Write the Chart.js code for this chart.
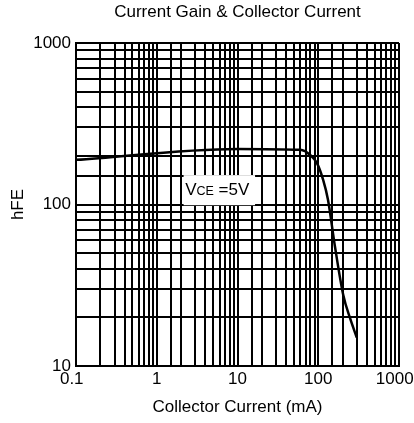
<!DOCTYPE html>
<html><head><meta charset="utf-8">
<script src="https://cdn.jsdelivr.net/npm/chart.js@4.4.1/dist/chart.umd.min.js"></script>
<style>html,body{margin:0;padding:0;background:#fff}#wrap{width:414px;height:423px;position:relative}</style>
</head><body><div id="wrap"><canvas id="c"></canvas></div>
<script>
// ---- data ----
const collectorCurrent = [0.1, 10, 60, 80, 96, 115, 132, 161, 204, 250, 300];   // mA
const hFE = [189, 221, 218, 202, 181, 142, 107, 55, 27.5, 19.5, 15];
const xTickLabels = ['0.1', '1', '10', '100', '1000'];
const yTickLabels = ['10', '100', '1000'];
const chartTitle = 'Current Gain & Collector Current';
const xTitle = 'Collector Current (mA)';
const yTitle = 'hFE';
const conditionMain = 'V', conditionSub = 'CE', conditionRest = ' =5V';

// annotation placement (data coordinates)
const labelBox = {x0: 2.15, x1: 16.5, yTop: 152, yBottom: 99};
const labelAnchor = {x: 2.25, y: 115};

const FONT = "'Liberation Sans', Arial, sans-serif";
Chart.defaults.font.family = FONT;
Chart.defaults.font.size = 17;
Chart.defaults.color = '#000';

function fmt(v){ return String(+Number(v).toPrecision(6)); }
// edge labels are drawn slightly left of their tick in the reference
function xLabel(v){
  const s = fmt(v);
  if (!xTickLabels.includes(s)) return '';
  return (s === xTickLabels[0] || s === xTickLabels[xTickLabels.length - 1]) ? s + '\u2002' : s;
}

const conditionLabel = {
  id: 'conditionLabel',
  beforeDatasetsDraw(chart){
    const {ctx, scales:{x, y}} = chart;
    const l = x.getPixelForValue(labelBox.x0), r = x.getPixelForValue(labelBox.x1);
    const t = y.getPixelForValue(labelBox.yTop), b = y.getPixelForValue(labelBox.yBottom);
    ctx.save();
    ctx.fillStyle = '#fff';
    ctx.fillRect(l, t, r - l, b - t);
    ctx.fillStyle = '#000';
    ctx.textBaseline = 'alphabetic';
    ctx.textAlign = 'left';
    let px = x.getPixelForValue(labelAnchor.x);
    const py = y.getPixelForValue(labelAnchor.y);
    ctx.font = '17px ' + FONT;
    ctx.fillText(conditionMain, px, py);
    px += ctx.measureText(conditionMain).width;
    ctx.font = '12.5px ' + FONT;
    ctx.fillText(conditionSub, px, py);
    px += ctx.measureText(conditionSub).width;
    ctx.font = '17px ' + FONT;
    ctx.fillText(conditionRest, px, py);
    ctx.restore();
  }
};

new Chart(document.getElementById('c'), {
  type: 'line',
  data: {
    datasets: [{
      data: collectorCurrent.map((c, i) => ({x: c, y: hFE[i]})),
      borderColor: '#000',
      borderWidth: 2.5,
      pointRadius: 0,
      cubicInterpolationMode: 'monotone',
      fill: false
    }]
  },
  options: {
    responsive: true,
    maintainAspectRatio: false,
    animation: false,
    devicePixelRatio: 1,
    layout: {padding: {left: 0, right: 15, top: 0, bottom: 0}},
    plugins: {legend: {display: false}, tooltip: {enabled: false}, title: {display: false}},
    scales: {
      x: {
        type: 'logarithmic', position: 'bottom', min: 0.1, max: 1000,
        grid: {color: '#000', lineWidth: 2, drawTicks: false},
        border: {color: '#000', width: 2},
        ticks: {padding: 3, autoSkip: false, maxRotation: 0, minRotation: 0, callback: xLabel},
        title: {display: true, text: xTitle, padding: {top: 0, bottom: 5}},
        afterFit: s => { s.height = 57; s.paddingLeft = 0; s.paddingRight = 0; }
      },
      y: {
        type: 'logarithmic', position: 'left', min: 10, max: 1000,
        grid: {color: '#000', lineWidth: 2, drawTicks: false},
        border: {color: '#000', width: 2},
        ticks: {padding: 5, autoSkip: false,
          callback: v => yTickLabels.includes(fmt(v)) ? fmt(v) : ''},
        title: {display: true, text: yTitle, padding: {top: 8, bottom: 0}},
        afterFit: s => { s.width = 76; s.paddingTop = 0; s.paddingBottom = 0; }
      },
      top: {
        type: 'linear', position: 'top',
        grid: {display: false}, border: {display: false}, ticks: {display: false},
        title: {display: true, text: chartTitle, padding: {top: 2, bottom: 0}},
        afterFit: s => { s.height = 43; }
      }
    }
  },
  plugins: [conditionLabel]
});
</script>
</body></html>
